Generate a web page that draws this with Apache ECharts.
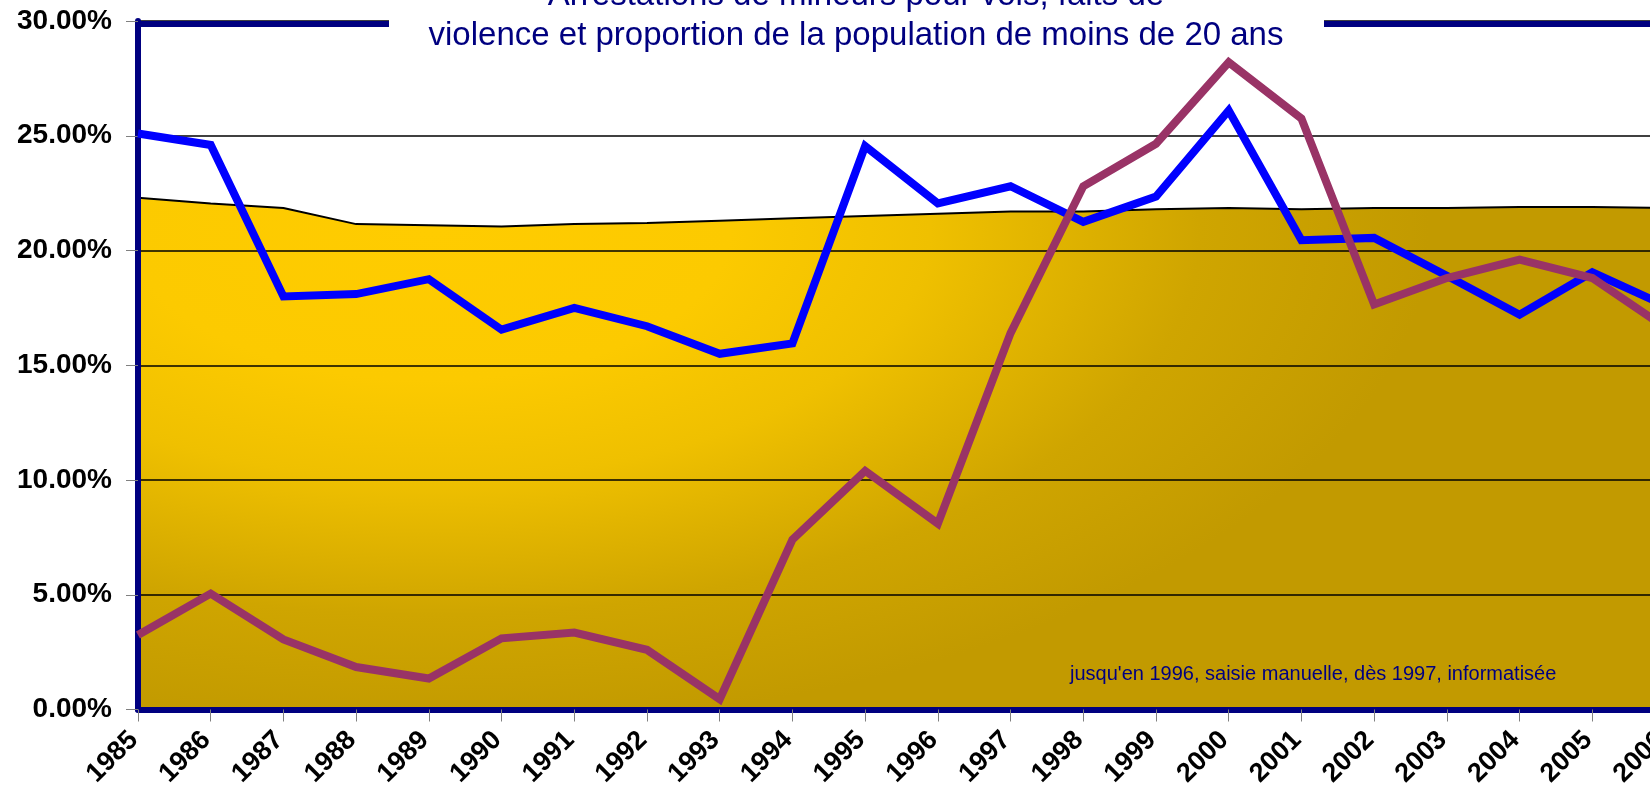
<!DOCTYPE html>
<html>
<head>
<meta charset="utf-8">
<script src="https://cdn.jsdelivr.net/npm/echarts@6/dist/echarts.min.js"></script>
<style>
html,body{margin:0;padding:0;background:#ffffff;}
#chart{width:1650px;height:811px;}
</style>
</head>
<body>
<div id="chart"></div>
<script>
// ---- data (percent) ----
const years = ['1985','1986','1987','1988','1989','1990','1991','1992','1993','1994','1995',
               '1996','1997','1998','1999','2000','2001','2002','2003','2004','2005','2006'];
// share of minors among arrests for theft (blue)
const volsShare = [25.1, 24.6, 18.0, 18.1, 18.75, 16.55, 17.5, 16.7, 15.5, 15.95, 24.55,
                   22.05, 22.8, 21.25, 22.35, 26.1, 20.45, 20.55, 18.9, 17.2, 19.05, 17.6];
// share of minors among arrests for violence (purple)
const violenceShare = [3.25, 5.05, 3.05, 1.85, 1.35, 3.1, 3.35, 2.6, 0.45, 7.4, 10.4,
                       8.1, 16.4, 22.8, 24.65, 28.2, 25.75, 17.65, 18.8, 19.6, 18.8, 16.65];
// proportion of population under 20 (area)
const youthShare = [22.3, 22.05, 21.85, 21.15, 21.1, 21.05, 21.15, 21.2, 21.3, 21.4, 21.5,
                    21.6, 21.7, 21.7, 21.8, 21.85, 21.8, 21.85, 21.85, 21.9, 21.9, 21.85];
const yMin = 0, yMax = 30, yStep = 5;
const titleLines = ['Arrestations de mineurs pour vols, faits de',
                    'violence et proportion de la population de moins de 20 ans'];
const note = "jusqu'en 1996, saisie manuelle, dès 1997, informatisée";

// ---- gold fill texture (elliptical gradient like the original plot area) ----
function makeFill() {
  const c = document.createElement('canvas');
  c.width = 1650; c.height = 811;
  const g = c.getContext('2d');
  g.save();
  g.translate(430, 230);
  g.scale(1, 0.5);
  const rg = g.createRadialGradient(0, 0, 0, 0, 0, 1000);
  rg.addColorStop(0, '#FFCC00');
  rg.addColorStop(0.3, '#FCCA00');
  rg.addColorStop(0.5, '#EFC000');
  rg.addColorStop(0.77, '#CFA500');
  rg.addColorStop(1, '#C29A00');
  g.fillStyle = rg;
  g.fillRect(-3000, -3000, 8000, 8000);
  g.restore();
  return c;
}

const NAVY = '#000080';
const FONT = 'Liberation Sans, Arial, sans-serif';
const chart = echarts.init(document.getElementById('chart'), null, {renderer: 'canvas'});
chart.setOption({
  animation: false,
  backgroundColor: '#ffffff',
  grid: {left: 138, right: -15, top: 21, bottom: 101.5, containLabel: false, outerBoundsMode: 'none'},
  xAxis: [{
    type: 'category', data: years, boundaryGap: false, position: 'bottom', z: 2,
    axisLine: {show: true, lineStyle: {color: NAVY, width: 6}},
    axisTick: {show: true, length: 12, lineStyle: {color: '#808080', width: 1}},
    axisLabel: {rotate: 45, margin: 22, color: '#000', fontSize: 27, fontWeight: 'bold',
                fontFamily: FONT, interval: 0, padding: [0, 6, 0, 0]},
    splitLine: {show: false}
  }, {
    type: 'category', data: years, boundaryGap: false, position: 'top', offset: -3, z: 2,
    axisLine: {show: true, lineStyle: {color: NAVY, width: 6}},
    axisTick: {show: false}, axisLabel: {show: false}, splitLine: {show: false}
  }],
  yAxis: {
    type: 'value', min: yMin, max: yMax, interval: yStep, z: 2,
    axisLine: {show: true, lineStyle: {color: NAVY, width: 6}},
    axisTick: {show: true, length: 12, lineStyle: {color: '#808080', width: 1}},
    axisLabel: {margin: 26, color: '#000', fontSize: 28, fontWeight: 'bold',
                fontFamily: FONT,
                formatter: v => v.toFixed(2) + '%'},
    splitLine: {show: true, lineStyle: {color: '#000', width: 1.5}}
  },
  series: [{
    name: 'Population de moins de 20 ans', type: 'line', data: youthShare, z: 1,
    symbol: 'none', lineStyle: {color: '#000', width: 2},
    areaStyle: {color: {image: makeFill(), repeat: 'no-repeat'}, opacity: 1}
  }, {
    name: 'Vols', type: 'line', data: volsShare, z: 3, symbol: 'none',
    lineStyle: {color: '#0000FF', width: 8, join: 'miter'}
  }, {
    name: 'Faits de violence', type: 'line', data: violenceShare, z: 3, symbol: 'none',
    lineStyle: {color: '#993366', width: 8, join: 'miter'}
  }],
  graphic: [{
    type: 'rect', z: 100, silent: true,
    shape: {x: 389, y: 0, width: 935, height: 50},
    style: {fill: '#ffffff'}
  }, {
    type: 'text', z: 101, silent: true, x: 856, y: -24,
    style: {text: titleLines.join('\n'), align: 'center', verticalAlign: 'top',
            lineHeight: 40, fill: NAVY,
            font: '33px "Liberation Sans", Arial, sans-serif'}
  }, {
    type: 'text', z: 101, silent: true, x: 1070, y: 674,
    style: {text: note, align: 'left', verticalAlign: 'middle', fill: NAVY,
            font: '20px "Liberation Sans", Arial, sans-serif'}
  }]
});
</script>
</body>
</html>
